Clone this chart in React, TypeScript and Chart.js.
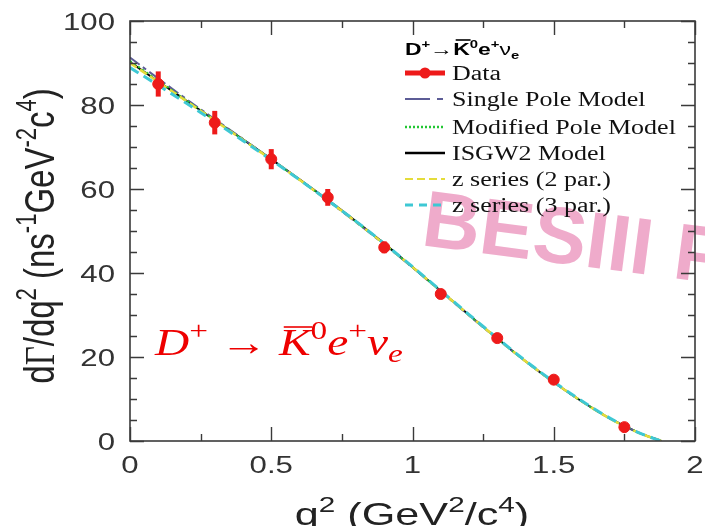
import React, { useEffect, useRef } from "react";
import { Chart, registerables } from "chart.js";

Chart.register(...registerables);

// ---------------- data ----------------
const Q2_DATA = [0.1, 0.3, 0.5, 0.7, 0.9, 1.1, 1.3, 1.5, 1.75];
const RATE_DATA = [85.0, 75.8, 67.1, 58.0, 46.1, 35.0, 24.5, 14.6, 3.3];
const RATE_ERR = [3.0, 2.8, 2.4, 2.0, 1.4, 1.0, 0.8, 0.6, 0.4];

const Q2_MODEL = [0, 0.1, 0.2, 0.3, 0.4, 0.5, 0.6, 0.7, 0.8, 0.9, 1.0, 1.1, 1.2, 1.3, 1.4, 1.5, 1.6, 1.7, 1.8, 1.88];
const SINGLE_POLE = [91.3, 86.3, 81.4, 76.6, 71.9, 67.1, 62.2, 57.2, 52.1, 46.8, 41.3, 35.6, 29.9, 24.3, 19.0, 14.0, 9.4, 5.3, 2.0, 0];
const MODIFIED_POLE = [90.5, 85.8, 81.1, 76.4, 71.8, 67.0, 62.2, 57.3, 52.2, 46.9, 41.4, 35.7, 30.0, 24.4, 19.0, 14.0, 9.4, 5.3, 2.0, 0];
const ISGW2 = [90.2, 85.6, 81.0, 76.4, 71.8, 67.1, 62.3, 57.4, 52.3, 47.0, 41.4, 35.7, 30.0, 24.4, 19.0, 14.0, 9.4, 5.3, 2.0, 0];
const Z_SERIES_2 = [90.0, 85.5, 80.9, 76.3, 71.7, 67.0, 62.2, 57.3, 52.2, 46.9, 41.4, 35.7, 30.0, 24.4, 19.0, 14.0, 9.4, 5.3, 2.0, 0];
const Z_SERIES_3 = [88.9, 84.7, 80.4, 76.0, 71.5, 66.9, 62.2, 57.3, 52.3, 47.0, 41.5, 35.8, 30.1, 24.5, 19.1, 14.1, 9.5, 5.4, 2.0, 0];

const X_MAJOR = [0, 0.5, 1, 1.5, 2];
const X_LABELS = ["0", "0.5", "1", "1.5", "2"];
const X_MINOR = [0.25, 0.75, 1.25, 1.75];
const Y_MAJOR = [0, 20, 40, 60, 80, 100];
const Y_LABELS = ["0", "20", "40", "60", "80", "100"];
const Y_MINOR = [5, 10, 15, 25, 30, 35, 45, 50, 55, 65, 70, 75, 85, 90, 95];

const LEGEND_LABELS = ["Data", "Single Pole Model", "Modified Pole Model", "ISGW2 Model", "z series (2 par.)", "z series (3 par.)"];

// ---------------- styles ----------------
const RED = "#ee1a1a";
const PURPLE = "#5c5c96";
const GREEN = "#22c633";
const BLACK = "#000000";
const YELLOW = "#e4dc3a";
const CYAN = "#3ec8d4";
const AXIS = "#3a3a3a";
const SANS = "'Liberation Sans', Arial, sans-serif";
const SERIF = "'Liberation Serif', 'Times New Roman', serif";

type Seg = { t: string; font: string; dy?: number; over?: boolean };

function richWidth(ctx: CanvasRenderingContext2D, segs: Seg[]) {
  let w = 0;
  for (const s of segs) {
    ctx.font = s.font;
    w += ctx.measureText(s.t).width;
  }
  return w;
}

function drawSegs(ctx: CanvasRenderingContext2D, segs: Seg[], x0: number, y0: number) {
  let cx = x0;
  for (const s of segs) {
    ctx.font = s.font;
    const m = ctx.measureText(s.t);
    const w = m.width;
    ctx.fillText(s.t, cx, y0 + (s.dy || 0));
    if (s.over) {
      const top = y0 - m.actualBoundingBoxAscent - 3;
      ctx.save();
      ctx.strokeStyle = ctx.fillStyle as string;
      ctx.lineWidth = 1.6;
      ctx.beginPath();
      ctx.moveTo(cx + w * 0.15, top);
      ctx.lineTo(cx + w * 1.05, top);
      ctx.stroke();
      ctx.restore();
    }
    cx += w;
  }
}

function stretchText(
  ctx: CanvasRenderingContext2D,
  text: string,
  x: number,
  y: number,
  font: string,
  align: "left" | "center" | "right",
  sx: number
) {
  ctx.save();
  ctx.font = font;
  const w = ctx.measureText(text).width * sx;
  let left = x;
  if (align === "center") left = x - w / 2;
  if (align === "right") left = x - w;
  ctx.translate(left, y);
  ctx.scale(sx, 1);
  ctx.textAlign = "left";
  ctx.fillText(text, 0, 0);
  ctx.restore();
}

const decorPlugin = {
  id: "decor",
  beforeDraw(chart: any) {
    const ctx = chart.ctx;
    ctx.save();
    ctx.fillStyle = "#ffffff";
    ctx.fillRect(0, 0, chart.width, chart.height);
    ctx.restore();
  },
  beforeDatasetsDraw(chart: any) {
    // watermark (beneath data and legend)
    const ctx = chart.ctx as CanvasRenderingContext2D;
    ctx.save();
    ctx.translate(420, 245);
    ctx.rotate((7.4 * Math.PI) / 180);
    ctx.font = `bold 80px ${SANS}`;
    ctx.fillStyle = "rgba(228, 115, 168, 0.6)";
    ctx.textBaseline = "alphabetic";
    ctx.fillText("BESIII P", 0, 0);
    ctx.restore();
  },
  beforeDatasetDraw(chart: any, args: any) {
    if (args.index !== 0) return;
    const ctx = chart.ctx as CanvasRenderingContext2D;
    const xs = chart.scales.x;
    const ys = chart.scales.y;
    ctx.save();
    ctx.strokeStyle = RED;
    ctx.lineWidth = 5;
    ctx.lineCap = "butt";
    Q2_DATA.forEach((q, i) => {
      const px = xs.getPixelForValue(q);
      const y1 = ys.getPixelForValue(RATE_DATA[i] + RATE_ERR[i]);
      const y2 = ys.getPixelForValue(RATE_DATA[i] - RATE_ERR[i]);
      ctx.beginPath();
      ctx.moveTo(px, y1);
      ctx.lineTo(px, y2);
      ctx.stroke();
    });
    ctx.restore();
  },
  afterDraw(chart: any) {
    const ctx = chart.ctx as CanvasRenderingContext2D;
    const xs = chart.scales.x;
    const ys = chart.scales.y;
    const { left, right, top, bottom } = chart.chartArea;

    // frame
    ctx.save();
    ctx.strokeStyle = AXIS;
    ctx.lineWidth = 1.6;
    ctx.strokeRect(left, top, right - left, bottom - top);

    // ticks on all four sides
    ctx.lineWidth = 1.4;
    const MAJ = 14;
    const MIN = 7;
    const xt = (v: number, len: number) => {
      const p = Math.round(xs.getPixelForValue(v)) + 0.5;
      ctx.beginPath();
      ctx.moveTo(p, bottom);
      ctx.lineTo(p, bottom - len);
      ctx.moveTo(p, top);
      ctx.lineTo(p, top + len);
      ctx.stroke();
    };
    const yt = (v: number, len: number) => {
      const p = Math.round(ys.getPixelForValue(v)) + 0.5;
      ctx.beginPath();
      ctx.moveTo(left, p);
      ctx.lineTo(left + len, p);
      ctx.moveTo(right, p);
      ctx.lineTo(right - len, p);
      ctx.stroke();
    };
    X_MAJOR.forEach((v) => xt(v, MAJ));
    X_MINOR.forEach((v) => xt(v, MIN));
    Y_MAJOR.forEach((v) => yt(v, MAJ));
    Y_MINOR.forEach((v) => yt(v, MIN));

    // tick labels
    ctx.fillStyle = "#333333";
    ctx.textBaseline = "alphabetic";
    const tickFont = `24px ${SANS}`;
    X_MAJOR.forEach((v, i) => {
      stretchText(ctx, X_LABELS[i], xs.getPixelForValue(v), bottom + 32, tickFont, "center", 1.3);
    });
    Y_MAJOR.forEach((v, i) => {
      stretchText(ctx, Y_LABELS[i], left - 15, ys.getPixelForValue(v) + 9, tickFont, "right", 1.3);
    });

    // x-axis title
    const F = 32;
    const fN = `${F}px ${SANS}`;
    const fS = `${Math.round(F * 0.68)}px ${SANS}`;
    const xTitle: Seg[] = [
      { t: "q", font: fN },
      { t: "2", font: fS, dy: -F * 0.42 },
      { t: " (GeV", font: fN },
      { t: "2", font: fS, dy: -F * 0.42 },
      { t: "/c", font: fN },
      { t: "4", font: fS, dy: -F * 0.42 },
      { t: ")", font: fN },
    ];
    {
      const sx = 1.35;
      const w = richWidth(ctx, xTitle) * sx;
      ctx.save();
      ctx.translate(412 - w / 2, 525);
      ctx.scale(sx, 1);
      ctx.fillStyle = "#222222";
      drawSegs(ctx, xTitle, 0, 0);
      ctx.restore();
    }

    // y-axis title
    const G = 33;
    const gN = `${G}px ${SANS}`;
    const gS = `${Math.round(G * 0.68)}px ${SANS}`;
    const yTitle: Seg[] = [
      { t: "d", font: gN },
      { t: "\u0393", font: `${G}px ${SERIF}` },
      { t: "/dq", font: gN },
      { t: "2", font: gS, dy: -G * 0.42 },
      { t: " (ns", font: gN },
      { t: "-1", font: gS, dy: -G * 0.42 },
      { t: "GeV", font: gN },
      { t: "-2", font: gS, dy: -G * 0.42 },
      { t: "c", font: gN },
      { t: "4", font: gS, dy: -G * 0.42 },
      { t: ")", font: gN },
    ];
    {
      const sx = 1.3;
      const w = richWidth(ctx, yTitle);
      ctx.save();
      ctx.translate(54, 236);
      ctx.scale(sx, 1);
      ctx.rotate(-Math.PI / 2);
      ctx.fillStyle = "#222222";
      drawSegs(ctx, yTitle, -w / 2, 0);
      ctx.restore();
    }

    // legend title
    {
      const T = 17;
      const b = `bold ${T}px ${SANS}`;
      const bs = `bold ${Math.round(T * 0.65)}px ${SANS}`;
      const segs: Seg[] = [
        { t: "D", font: b },
        { t: "+", font: bs, dy: -7 },
        { t: "\u2192", font: b },
        { t: "K", font: b, over: true },
        { t: "0", font: bs, dy: -7 },
        { t: "e", font: b },
        { t: "+", font: bs, dy: -7 },
        { t: "\u03bd", font: `${T}px ${SANS}` },
        { t: "e", font: bs, dy: 4 },
      ];
      ctx.save();
      ctx.translate(405, 55);
      ctx.scale(1.35, 1);
      ctx.fillStyle = "#000000";
      drawSegs(ctx, segs, 0, 0);
      ctx.restore();
    }

    // legend entries
    const rowsY = [73, 99, 127, 153, 179, 205];
    const sample = (i: number, y: number) => {
      ctx.save();
      ctx.lineCap = "butt";
      ctx.beginPath();
      ctx.moveTo(405, y);
      ctx.lineTo(445, y);
      if (i === 0) {
        ctx.strokeStyle = RED;
        ctx.lineWidth = 5;
        ctx.stroke();
        ctx.fillStyle = RED;
        ctx.beginPath();
        ctx.arc(425, y, 5.5, 0, Math.PI * 2);
        ctx.fill();
      } else if (i === 1) {
        ctx.strokeStyle = PURPLE;
        ctx.lineWidth = 2;
        ctx.setLineDash([25, 7, 6, 10]);
        ctx.stroke();
      } else if (i === 2) {
        ctx.strokeStyle = GREEN;
        ctx.lineWidth = 2.5;
        ctx.setLineDash([2, 2]);
        ctx.stroke();
      } else if (i === 3) {
        ctx.strokeStyle = BLACK;
        ctx.lineWidth = 2.5;
        ctx.stroke();
      } else if (i === 4) {
        ctx.strokeStyle = YELLOW;
        ctx.lineWidth = 2;
        ctx.setLineDash([8, 4]);
        ctx.stroke();
      } else {
        ctx.strokeStyle = CYAN;
        ctx.lineWidth = 3;
        ctx.setLineDash([8, 6]);
        ctx.stroke();
      }
      ctx.restore();
    };
    LEGEND_LABELS.forEach((lab, i) => {
      sample(i, rowsY[i]);
      ctx.fillStyle = "#111111";
      stretchText(ctx, lab, 452, rowsY[i] + 6.5, `20px ${SERIF}`, "left", 1.3);
    });

    // red annotation
    {
      const A = 37;
      const it = `italic ${A}px ${SERIF}`;
      const up = `${A}px ${SERIF}`;
      const sup = `${Math.round(A * 0.7)}px ${SERIF}`;
      const itSub = `italic ${Math.round(A * 0.7)}px ${SERIF}`;
      const segs: Seg[] = [
        { t: "D", font: it },
        { t: "+", font: sup, dy: -A * 0.42 },
        { t: " \u2192 ", font: up },
        { t: "K", font: it, over: true },
        { t: "0", font: sup, dy: -A * 0.42 },
        { t: "e", font: it },
        { t: "+", font: sup, dy: -A * 0.42 },
        { t: "\u03bd", font: it },
        { t: "e", font: itSub, dy: A * 0.2 },
      ];
      ctx.save();
      ctx.translate(155, 355);
      ctx.scale(1.28, 1);
      ctx.fillStyle = "#ee0000";
      drawSegs(ctx, segs, 0, 0);
      ctx.restore();
    }
    ctx.restore();
  },
};

function line(label: string, data: number[], color: string, width: number, dash: number[], order: number) {
  return {
    label,
    data: Q2_MODEL.map((q, i) => ({ x: q, y: data[i] })),
    borderColor: color,
    backgroundColor: color,
    borderWidth: width,
    borderDash: dash,
    pointRadius: 0,
    cubicInterpolationMode: "monotone" as const,
    fill: false,
    order,
  };
}

export default function App() {
  const ref = useRef<HTMLCanvasElement | null>(null);
  useEffect(() => {
    document.body.style.margin = "0";
    if (!ref.current) return;
    const chart = new Chart(ref.current, {
      type: "line",
      data: {
        datasets: [
          {
            label: "Data",
            data: Q2_DATA.map((q, i) => ({ x: q, y: RATE_DATA[i] })),
            showLine: false,
            pointRadius: 5.5,
            pointBackgroundColor: RED,
            pointBorderColor: RED,
            borderColor: RED,
            backgroundColor: RED,
            order: 0,
          } as any,
          line("z series (3 par.)", Z_SERIES_3, CYAN, 3, [10, 6], 1),
          line("z series (2 par.)", Z_SERIES_2, YELLOW, 2.5, [8, 4], 2),
          line("Modified Pole Model", MODIFIED_POLE, GREEN, 2, [2, 3], 3),
          line("Single Pole Model", SINGLE_POLE, PURPLE, 2, [12, 4, 4, 4], 4),
          line("ISGW2 Model", ISGW2, BLACK, 2, [], 5),
        ],
      },
      options: {
        animation: false,
        responsive: false,
        maintainAspectRatio: false,
        devicePixelRatio: 1,
        layout: { padding: { left: 130, right: 10, top: 21, bottom: 85 } },
        plugins: { legend: { display: false }, tooltip: { enabled: false } },
        scales: {
          x: { type: "linear", min: 0, max: 2, display: false },
          y: { type: "linear", min: 0, max: 100, display: false },
        },
      },
      plugins: [decorPlugin],
    });
    return () => chart.destroy();
  }, []);
  return (
    <div style={{ width: 705, height: 526 }}>
      <canvas ref={ref} width={705} height={526} style={{ display: "block" }} />
    </div>
  );
}
